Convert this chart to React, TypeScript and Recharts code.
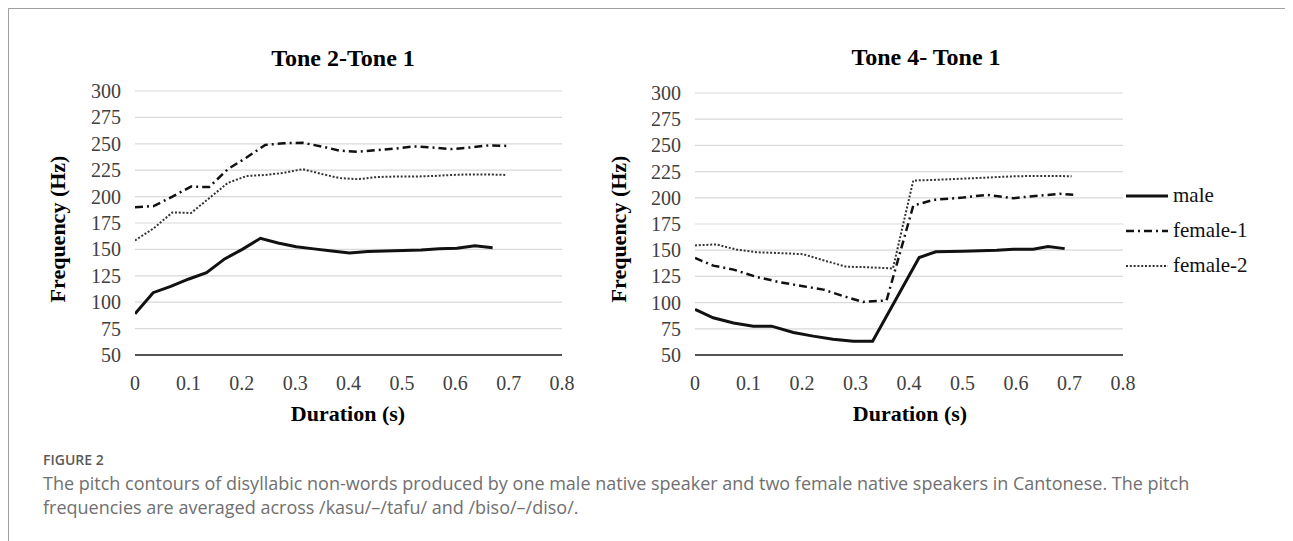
import React from 'react';
import { LineChart, Line, XAxis, YAxis, CartesianGrid, Legend } from 'recharts';

// Tone 2 - Tone 1
const t2MaleTime = [0, 0.034, 0.067, 0.101, 0.134, 0.168, 0.201, 0.235, 0.268, 0.302, 0.335, 0.369, 0.402, 0.436, 0.469, 0.503, 0.536, 0.57, 0.603, 0.637, 0.67];
const t2MaleHz = [89, 109, 115, 122, 128, 141, 150, 160.5, 156, 152.5, 150.5, 148.5, 146.5, 148, 148.5, 149, 149.5, 150.5, 151, 153.5, 151.5];
const t2FemaleTime = [0, 0.035, 0.07, 0.105, 0.139, 0.174, 0.209, 0.244, 0.279, 0.314, 0.349, 0.384, 0.418, 0.453, 0.488, 0.523, 0.558, 0.593, 0.627, 0.662, 0.697];
const t2Female1Hz = [190, 191, 200, 209.5, 209, 226, 237, 249, 250.5, 251, 247.5, 243.5, 242.5, 244, 245.5, 247.5, 246.5, 245, 246.5, 248.5, 248];
const t2Female2Hz = [158.5, 170, 185, 184.5, 198.5, 213, 219.5, 220.5, 222.5, 226, 221.5, 217.5, 216.5, 218.5, 219, 219, 219.5, 220.5, 221, 221, 220.5];

// Tone 4 - Tone 1
const t4MaleTime = [0, 0.034, 0.072, 0.109, 0.143, 0.184, 0.221, 0.258, 0.296, 0.332, 0.419, 0.45, 0.501, 0.564, 0.595, 0.632, 0.66, 0.691];
const t4MaleHz = [93.5, 85.5, 80.5, 77.5, 77.5, 71.5, 68, 65, 63.2, 63.2, 143, 148.5, 149, 150, 151, 151, 153.5, 151.5];
const t4Female1Time = [0, 0.034, 0.072, 0.115, 0.159, 0.202, 0.24, 0.277, 0.314, 0.358, 0.408, 0.445, 0.501, 0.545, 0.595, 0.626, 0.682, 0.707];
const t4Female1Hz = [142.6, 135.3, 131.5, 124.5, 119.4, 115.6, 112.4, 106.2, 100.6, 102, 192.5, 198, 200.2, 202.8, 199.6, 201.3, 203.8, 202.8];
const t4Female2Time = [0, 0.04, 0.078, 0.115, 0.153, 0.202, 0.246, 0.283, 0.321, 0.37, 0.408, 0.445, 0.501, 0.545, 0.601, 0.657, 0.704];
const t4Female2Hz = [154.6, 155.5, 150.5, 148, 147.4, 146.2, 139.5, 134.2, 133.8, 132.6, 216.5, 217, 218.3, 219.3, 220.6, 220.9, 220.6];

const xTicks = [0, 0.1, 0.2, 0.3, 0.4, 0.5, 0.6, 0.7, 0.8];
const yTicks = [50, 75, 100, 125, 150, 175, 200, 225, 250, 275, 300];
const seriesNames = ['male', 'female-1', 'female-2'];

const serif = '"Liberation Serif", "Times New Roman", serif';
const caption = 'The pitch contours of disyllabic non-words produced by one male native speaker and two female native speakers in Cantonese. The pitch frequencies are averaged across /kasu/\u2013/tafu/ and /biso/\u2013/diso/.';

const styles = [
  { stroke: '#111', strokeWidth: 3, dash: undefined },
  { stroke: '#111', strokeWidth: 2.5, dash: '8 4 2 4' },
  { stroke: '#333', strokeWidth: 2, dash: '2 1.8' },
];

const toPoints = (time: number[], hz: number[]) => time.map((t, i) => ({ t, hz: hz[i] }));

// custom ticks so the serif face is applied for sure
const XTick = ({ x, y, payload }: any) => (
  <text x={x} y={y} dy={14} textAnchor="middle" fontFamily={serif} fontSize={20} fill="#404040">
    {String(Math.round(payload.value * 10) / 10)}
  </text>
);
const YTick = ({ x, y, payload }: any) => (
  <text x={x} y={y} dy={7} textAnchor="end" fontFamily={serif} fontSize={20} fill="#404040">
    {payload.value}
  </text>
);

const LegendBox = () => (
  <div style={{ fontFamily: serif, fontSize: 21, color: '#111' }}>
    {seriesNames.map((name, i) => (
      <div key={name} style={{ display: 'flex', alignItems: 'center', height: 35 }}>
        <svg width={44} height={10} style={{ marginRight: 3 }}>
          <line x1={0} y1={5} x2={42} y2={5} stroke={styles[i].stroke} strokeWidth={styles[i].strokeWidth} strokeDasharray={styles[i].dash} />
        </svg>
        <span>{name}</span>
      </div>
    ))}
  </div>
);

interface PanelProps {
  series: { time: number[]; hz: number[] }[];
  width: number;
  margin: { top: number; right: number; bottom: number; left: number };
  yWidth: number;
  legend?: boolean;
}

function Panel({ series, width, margin, yWidth, legend }: PanelProps) {
  return (
    <LineChart width={width} height={360} margin={margin}>
      <CartesianGrid vertical={false} stroke="#d9d9d9" strokeWidth={1.2} />
      <XAxis
        dataKey="t"
        type="number"
        domain={[0, 0.8]}
        ticks={xTicks}
        interval={0}
        allowDataOverflow
        tick={<XTick />}
        tickLine={false}
        tickSize={0}
        tickMargin={21}
        height={40}
        axisLine={{ stroke: '#222', strokeWidth: 1.5 }}
      />
      <YAxis
        type="number"
        domain={[50, 300]}
        ticks={yTicks}
        interval={0}
        tick={<YTick />}
        tickLine={false}
        tickSize={0}
        tickMargin={14}
        width={yWidth}
        axisLine={false}
      />
      {series.map((s, i) => (
        <Line
          key={seriesNames[i]}
          data={toPoints(s.time, s.hz)}
          dataKey="hz"
          name={seriesNames[i]}
          type="linear"
          stroke={styles[i].stroke}
          strokeWidth={styles[i].strokeWidth}
          strokeDasharray={styles[i].dash}
          dot={false}
          activeDot={false}
          isAnimationActive={false}
        />
      ))}
      {legend && (
        <Legend
          layout="vertical"
          align="center"
          verticalAlign="middle"
          content={() => <LegendBox />}
          wrapperStyle={{ left: 516, top: 110, width: 160, height: 105 }}
        />
      )}
    </LineChart>
  );
}

const abs = (left: number, top: number): React.CSSProperties => ({
  position: 'absolute',
  left,
  top,
  transform: 'translate(-50%, -50%)',
  whiteSpace: 'nowrap',
});

export default function App() {
  // offsets: the frame starts at page (9, 9)
  const o = 9;
  return (
    <div
      style={{
        position: 'relative',
        width: 1284,
        height: 532,
        borderTop: '1px solid #a0a0a0',
        borderLeft: '1px solid #a0a0a0',
        background: '#fff',
        overflow: 'hidden',
      }}
    >
      <div style={{ position: 'absolute', left: 48 - o, top: 68 - o }}>
        <Panel
          width={530}
          margin={{ top: 23, right: 16, bottom: 33, left: 0 }}
          yWidth={87}
          series={[
            { time: t2MaleTime, hz: t2MaleHz },
            { time: t2FemaleTime, hz: t2Female1Hz },
            { time: t2FemaleTime, hz: t2Female2Hz },
          ]}
        />
      </div>
      <div style={{ position: 'absolute', left: 610 - o, top: 68 - o }}>
        <Panel
          width={680}
          margin={{ top: 25, right: 167, bottom: 33, left: 0 }}
          yWidth={85}
          legend
          series={[
            { time: t4MaleTime, hz: t4MaleHz },
            { time: t4Female1Time, hz: t4Female1Hz },
            { time: t4Female2Time, hz: t4Female2Hz },
          ]}
        />
      </div>

      <div style={{ ...abs(343 - o, 58 - o), fontFamily: serif, fontWeight: 'bold', fontSize: 24 }}>Tone 2-Tone 1</div>
      <div style={{ ...abs(926 - o, 57 - o), fontFamily: serif, fontWeight: 'bold', fontSize: 24 }}>Tone 4- Tone 1</div>

      <div style={{ ...abs(58 - o, 229 - o), transform: 'translate(-50%, -50%) rotate(-90deg)', fontFamily: serif, fontWeight: 'bold', fontSize: 22 }}>Frequency (Hz)</div>
      <div style={{ ...abs(619 - o, 229 - o), transform: 'translate(-50%, -50%) rotate(-90deg)', fontFamily: serif, fontWeight: 'bold', fontSize: 22 }}>Frequency (Hz)</div>

      <div style={{ ...abs(348 - o, 414 - o), fontFamily: serif, fontWeight: 'bold', fontSize: 22 }}>Duration (s)</div>
      <div style={{ ...abs(910 - o, 414 - o), fontFamily: serif, fontWeight: 'bold', fontSize: 22 }}>Duration (s)</div>

      <div
        style={{
          position: 'absolute',
          left: 43 - o,
          top: 450 - o,
          fontFamily: '"Open Sans", sans-serif',
          fontWeight: 600,
          fontSize: 14,
          color: '#5a5a5a',
        }}
      >
        FIGURE 2
      </div>
      <div
        style={{
          position: 'absolute',
          left: 43 - o,
          top: 471 - o,
          width: 1165,
          fontFamily: '"Open Sans", sans-serif',
          fontSize: 18,
          lineHeight: '24px',
          color: '#707070',
        }}
      >
        {caption}
      </div>
    </div>
  );
}
